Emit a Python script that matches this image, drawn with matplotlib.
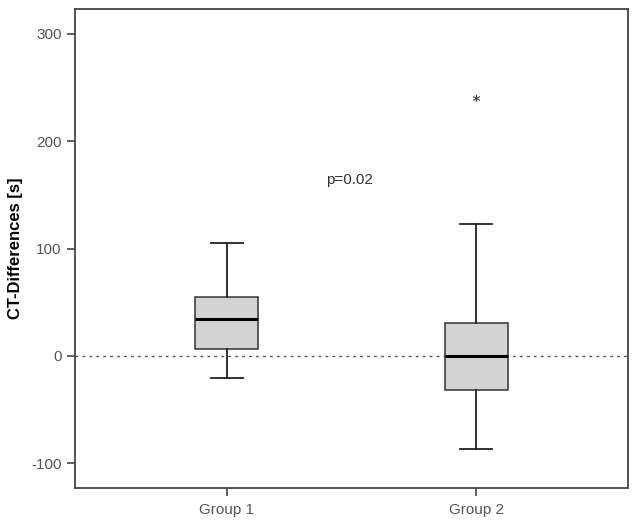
import matplotlib.pyplot as plt

# Boxplot-Kennwerte
groups = ['Group 1', 'Group 2']
whisker_low = [-21, -87]
q1 = [6, -32]
medians = [34, 0]
q3 = [55, 31]
whisker_high = [105, 123]
outliers = [[], [240]]

plt.rcParams['font.family'] = ['Liberation Sans', 'DejaVu Sans']
plt.rcParams['axes.unicode_minus'] = False

stats = []
for i, name in enumerate(groups):
    stats.append({
        'label': name,
        'whislo': whisker_low[i],
        'q1': q1[i],
        'med': medians[i],
        'q3': q3[i],
        'whishi': whisker_high[i],
        'fliers': outliers[i],
    })

fig = plt.figure(figsize=(6.38, 5.22), dpi=100)
ax = fig.add_axes([75 / 638, 1 - 488 / 522, 553 / 638, 479 / 522])

ax.axhline(0, color='#555555', linestyle=(0, (2, 3)), linewidth=1, zorder=1)

ax.bxp(stats, positions=[1, 2], widths=0.253, patch_artist=True,
       boxprops=dict(facecolor='#d3d3d3', edgecolor='#333333', linewidth=1.1),
       medianprops=dict(color='black', linewidth=2.2),
       whiskerprops=dict(color='#222222', linewidth=1.3),
       capprops=dict(color='#222222', linewidth=1.3),
       capwidths=0.125,
       flierprops=dict(marker='$*$', markersize=5, markeredgewidth=0.2,
                       markerfacecolor='#333333', markeredgecolor='#333333'),
       zorder=2)

ax.text(1.49, 164, 'p=0.02', ha='center', va='center', fontsize=11, color='#333333')

ax.set_xlim(0.39, 2.61)
ax.set_ylim(-123, 323)
ax.set_yticks([-100, 0, 100, 200, 300])
ax.set_ylabel('CT-Differences [s]', fontsize=12, fontweight='bold', labelpad=6)

for s in ax.spines.values():
    s.set_color('#444444')
    s.set_linewidth(1.3)
ax.tick_params(axis='both', colors='#444444', labelcolor='#555555', labelsize=11,
               length=6, width=1.2)
ax.tick_params(axis='x', pad=5)

fig.savefig('out.png', dpi=100)
